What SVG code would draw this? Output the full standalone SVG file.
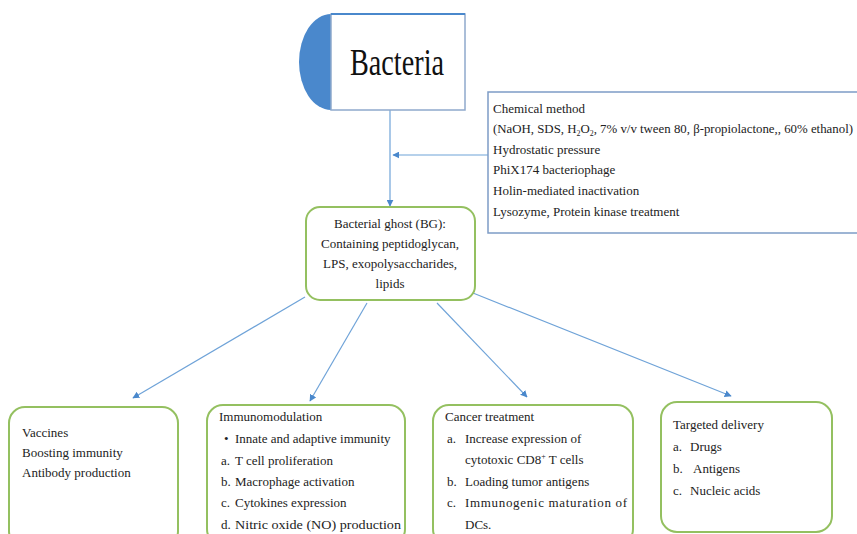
<svg xmlns="http://www.w3.org/2000/svg" width="857" height="534" viewBox="0 0 857 534">
<style>
.t{font-family:"Liberation Serif","Times New Roman",serif;font-size:13px;fill:#222}
.g{fill:#fff;stroke:#94c060;stroke-width:2}
.c{stroke:#6fa3d8;stroke-width:1.2;fill:none}
</style>
<defs>
<marker id="ah" viewBox="0 0 10 10" refX="9" refY="5" markerWidth="7" markerHeight="7" orient="auto" markerUnits="userSpaceOnUse">
<path d="M0,0 L10,5 L0,10 z" fill="#4a88cc"/>
</marker>
</defs>
<rect width="857" height="534" fill="#fff"/>
<g id="connectors">
<line class="c" x1="390" y1="110" x2="390" y2="206" marker-end="url(#ah)"/>
<line class="c" x1="488" y1="155" x2="393" y2="155" marker-end="url(#ah)"/>
<line class="c" x1="305" y1="297" x2="133" y2="398" marker-end="url(#ah)"/>
<line class="c" x1="367" y1="303" x2="310" y2="401" marker-end="url(#ah)"/>
<line class="c" x1="437" y1="303" x2="527" y2="397" marker-end="url(#ah)"/>
<line class="c" x1="473" y1="293" x2="731" y2="396" marker-end="url(#ah)"/>
</g>
<g id="bacteria">
<path d="M331,14 A32,48 0 0 0 331,110 Z" fill="#4a88cc"/>
<rect x="331" y="14" width="134" height="96" fill="#fff" stroke="#8fa9cc" stroke-width="1.5"/>
<line x1="331" y1="14" x2="465" y2="14" stroke="#4a88cc" stroke-width="2"/>
<text x="350" y="75" style="font-family:'Liberation Serif','Times New Roman',serif;font-size:37px;fill:#111" textLength="94" lengthAdjust="spacingAndGlyphs">Bacteria</text>
</g>
<g id="methods">
<rect x="488" y="92" width="372" height="141" fill="#fff" stroke="#7d9cc6" stroke-width="1.5"/>
<text class="t" x="493" y="113">Chemical method</text>
<text class="t" x="493" y="133" textLength="360" lengthAdjust="spacingAndGlyphs">(NaOH, SDS, H<tspan font-size="8" dy="3">2</tspan><tspan dy="-3">O</tspan><tspan font-size="8" dy="3">2</tspan><tspan dy="-3">, 7% v/v tween 80, β-propiolactone,, 60% ethanol)</tspan></text>
<text class="t" x="493" y="154">Hydrostatic pressure</text>
<text class="t" x="493" y="174">PhiX174 bacteriophage</text>
<text class="t" x="493" y="195">Holin-mediated inactivation</text>
<text class="t" x="493" y="216">Lysozyme, Protein kinase treatment</text>
</g>
<g id="ghost">
<rect class="g" x="306" y="207" width="169" height="93" rx="14"/>
<text class="t" x="390" y="228" text-anchor="middle">Bacterial ghost (BG):</text>
<text class="t" x="390" y="248" text-anchor="middle">Containing peptidoglycan,</text>
<text class="t" x="390" y="268" text-anchor="middle">LPS, exopolysaccharides,</text>
<text class="t" x="390" y="288" text-anchor="middle">lipids</text>
</g>
<g id="vaccines">
<rect class="g" x="9" y="407" width="169" height="140" rx="16"/>
<text class="t" x="22" y="437">Vaccines</text>
<text class="t" x="22" y="457">Boosting immunity</text>
<text class="t" x="22" y="477">Antibody production</text>
</g>
<g id="immuno">
<rect class="g" x="207" y="405" width="198" height="140" rx="16"/>
<text class="t" x="219" y="421">Immunomodulation</text>
<text class="t" x="224" y="443">•</text><text class="t" x="235" y="443">Innate and adaptive immunity</text>
<text class="t" x="221" y="465">a.</text><text class="t" x="235" y="465">T cell proliferation</text>
<text class="t" x="221" y="486">b.</text><text class="t" x="235" y="486">Macrophage activation</text>
<text class="t" x="221" y="507">c.</text><text class="t" x="235" y="507">Cytokines expression</text>
<text class="t" x="221" y="529">d.</text><text class="t" x="235" y="529" textLength="166" lengthAdjust="spacingAndGlyphs">Nitric oxide (NO) production</text>
</g>
<g id="cancer">
<rect class="g" x="433" y="405" width="200" height="140" rx="16"/>
<text class="t" x="445" y="421">Cancer treatment</text>
<text class="t" x="447" y="443">a.</text><text class="t" x="465" y="443">Increase expression of</text>
<text class="t" x="465" y="464">cytotoxic CD8<tspan font-size="8" dy="-5">+</tspan><tspan dy="5"> T cells</tspan></text>
<text class="t" x="447" y="486">b.</text><text class="t" x="465" y="486">Loading tumor antigens</text>
<text class="t" x="447" y="507">c.</text><text class="t" x="465" y="507" textLength="162" lengthAdjust="spacing">Immunogenic maturation of</text>
<text class="t" x="465" y="529">DCs.</text>
</g>
<g id="delivery">
<rect class="g" x="661" y="402" width="171" height="130" rx="16"/>
<text class="t" x="673" y="429">Targeted delivery</text>
<text class="t" x="673" y="451">a.</text><text class="t" x="690" y="451">Drugs</text>
<text class="t" x="673" y="473">b.</text><text class="t" x="693" y="473">Antigens</text>
<text class="t" x="673" y="495">c.</text><text class="t" x="690" y="495">Nucleic acids</text>
</g>
</svg>
